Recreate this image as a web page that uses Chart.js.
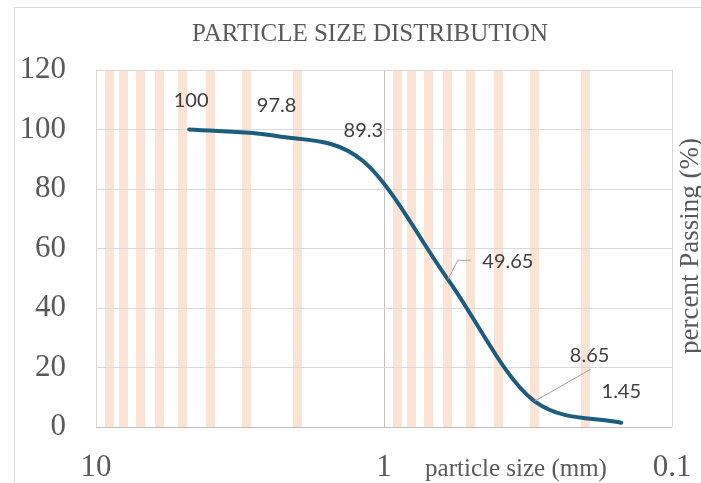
<!DOCTYPE html>
<html><head><meta charset="utf-8">
<script src="https://cdn.jsdelivr.net/npm/chart.js@4/dist/chart.umd.min.js"></script>
<style>html,body{margin:0;padding:0;background:#fff;overflow:hidden}</style>
</head><body><canvas id="c" width="701" height="483"></canvas>
<script>
// ---- data ----
const sieveSizes = [4.75, 2.36, 1.18, 0.6, 0.3, 0.15];
const percentPassing = [100, 97.8, 89.3, 49.65, 8.65, 1.45];
const pointLabels = ['100', '97.8', '89.3', '49.65', '8.65', '1.45'];
const xTickValues = [10, 9, 8, 7, 6, 5, 4, 3, 2, 1, 0.9, 0.8, 0.7, 0.6, 0.5, 0.4, 0.3, 0.2, 0.1];
const xMajorTicks = [10, 1, 0.1];
const xTickLabels = ['10', '1', '0.1'];
const yTickValues = [0, 20, 40, 60, 80, 100, 120];
const chartTitle = 'PARTICLE SIZE DISTRIBUTION';
const xAxisTitle = 'particle size (mm)';
const yAxisTitle = 'percent Passing (%)';

// ---- styles ----
const labelOffsets = [[2, -29], [0, -30], [0, -31], [60, -18], [55, -46], [0, -31]];
const leaderLines = { 3: [[0, 0], [10, -19], [23, -19]], 4: [[0, 0], [56, -32]] };
const serif = '"Liberation Serif", "Times New Roman", serif';
const textGray = '#595959';

const decor = {
  id: 'decor',
  afterDatasetsDraw(chart) {
    const ctx = chart.ctx;
    const meta = chart.getDatasetMeta(0);
    ctx.save();
    ctx.strokeStyle = '#A6A6A6';
    ctx.lineWidth = 1;
    Object.keys(leaderLines).forEach(k => {
      const p = meta.data[k];
      const pts = leaderLines[k];
      ctx.beginPath();
      pts.forEach((o, j) => { const x = p.x + o[0], y = p.y + o[1]; j ? ctx.lineTo(x, y) : ctx.moveTo(x, y); });
      ctx.stroke();
    });
    ctx.font = '20px Lato, "Open Sans", sans-serif';
    ctx.fillStyle = '#404040';
    ctx.textAlign = 'center';
    ctx.textBaseline = 'middle';
    meta.data.forEach((p, i) => {
      ctx.fillText(pointLabels[i], p.x + labelOffsets[i][0], p.y + labelOffsets[i][1]);
    });
    ctx.restore();
  },
  afterDraw(chart) {
    const ctx = chart.ctx;
    ctx.save();
    ctx.strokeStyle = '#D9D9D9';
    ctx.lineWidth = 1;
    ctx.beginPath();
    ctx.moveTo(14.5, 483); ctx.lineTo(14.5, 7.5); ctx.lineTo(701, 7.5);
    ctx.stroke();
    ctx.fillStyle = textGray;
    ctx.textAlign = 'center';
    ctx.textBaseline = 'alphabetic';
    ctx.font = '25px ' + serif;
    ctx.fillText(chartTitle, 370, 41);
    ctx.fillText(xAxisTitle, 516, 476);
    ctx.translate(698, 246);
    ctx.rotate(-Math.PI / 2);
    ctx.font = '27px ' + serif;
    ctx.fillText(yAxisTitle, 0, 0);
    ctx.restore();
  }
};

new Chart(document.getElementById('c'), {
  type: 'line',
  data: {
    datasets: [{
      data: sieveSizes.map((s, i) => ({ x: s, y: percentPassing[i] })),
      borderColor: '#1C5C7D',
      borderWidth: 4,
      borderCapStyle: 'round',
      pointRadius: 0,
      cubicInterpolationMode: 'monotone',
      fill: false
    }]
  },
  options: {
    responsive: false,
    devicePixelRatio: 1,
    animation: false,
    layout: { padding: { top: 70, left: 0, right: 29, bottom: 0 } },
    plugins: { legend: { display: false }, tooltip: { enabled: false }, title: { display: false } },
    scales: {
      x: {
        type: 'logarithmic',
        reverse: true,
        min: 0.1,
        max: 10,
        afterBuildTicks: s => { s.ticks = xTickValues.map(v => ({ value: v })); },
        afterFit: s => { s.height = 56; s.paddingLeft = 0; s.paddingRight = 0; },
        border: { display: false },
        grid: {
          drawTicks: false,
          color: c => {
            const v = c.tick ? c.tick.value : null;
            if (v === 1) return '#BFBFBF';
            if (xMajorTicks.includes(v)) return '#D9D9D9';
            return '#FBE3D6';
          },
          lineWidth: c => {
            const v = c.tick ? c.tick.value : null;
            return xMajorTicks.includes(v) ? 1 : 9;
          }
        },
        ticks: {
          autoSkip: false,
          maxRotation: 0,
          padding: 22,
          color: textGray,
          font: { family: serif, size: 31 },
          callback: v => { const k = xMajorTicks.indexOf(v); return k >= 0 ? xTickLabels[k] : ''; }
        }
      },
      y: {
        min: 0,
        max: 120,
        afterBuildTicks: s => { s.ticks = yTickValues.map(v => ({ value: v })); },
        afterFit: s => { s.width = 96; },
        border: { display: false },
        grid: {
          drawTicks: false,
          color: c => (c.tick && c.tick.value === 0) ? '#BFBFBF' : '#D9D9D9',
          lineWidth: 1
        },
        ticks: {
          padding: 30,
          color: textGray,
          font: { family: serif, size: 31 }
        }
      }
    }
  },
  plugins: [decor]
});
</script>
</body></html>
